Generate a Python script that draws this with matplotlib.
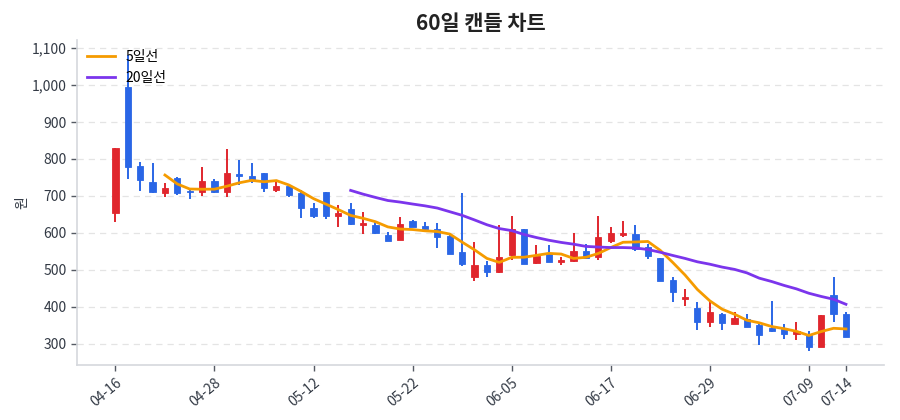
import numpy as np
import pandas as pd
import matplotlib
matplotlib.use('Agg')
import matplotlib.pyplot as plt
from matplotlib import ticker

plt.rcParams['font.family'] = ['Noto Sans CJK KR', 'DejaVu Sans']

# daily OHLC, 60 trading days
opens = [654, 994, 781, 739, 709, 748, 714, 712, 741, 711,
         759, 754, 761, 716, 727, 707, 668, 712, 646, 664,
         621, 622, 595, 581, 633, 619, 610, 593, 549, 480,
         513, 495, 541, 611, 518, 543, 522, 525, 552, 534,
         579, 594, 597, 561, 532, 473, 422, 398, 358, 381,
         354, 368, 350, 343, 340, 327, 324, 291, 432, 381]
highs = [830, 1082, 793, 788, 736, 750, 718, 779, 745, 828,
         797, 788, 763, 743, 728, 716, 682, 712, 676, 682,
         658, 633, 602, 642, 635, 630, 628, 595, 707, 576,
         525, 622, 646, 612, 568, 567, 536, 599, 570, 646,
         615, 632, 622, 570, 533, 482, 448, 412, 412, 383,
         387, 380, 358, 417, 353, 358, 336, 378, 480, 386]
lows = [630, 745, 713, 708, 697, 702, 691, 701, 709, 697,
        730, 734, 710, 712, 698, 640, 641, 637, 615, 622,
        596, 598, 577, 580, 615, 607, 558, 542, 511, 471,
        482, 491, 527, 515, 516, 521, 514, 522, 530, 527,
        572, 588, 552, 529, 469, 412, 403, 338, 347, 338,
        353, 346, 296, 331, 314, 311, 281, 291, 360, 318]
closes = [830, 778, 743, 710, 722, 709, 710, 740, 711, 762,
          755, 743, 721, 727, 703, 667, 646, 647, 653, 624,
          628, 600, 577, 624, 617, 611, 590, 543, 515, 513,
          495, 536, 611, 517, 538, 522, 527, 552, 532, 590,
          601, 599, 556, 539, 470, 439, 428, 360, 386, 356,
          371, 347, 325, 336, 327, 335, 291, 378, 380, 318]

tick_idx = [0, 8, 16, 24, 32, 40, 48, 56, 59]
tick_labels = ['04-16', '04-28', '05-12', '05-22', '06-05',
               '06-17', '06-29', '07-09', '07-14']

up_color = '#e0262d'
down_color = '#2a66e6'
ma5_color = '#f59b00'
ma20_color = '#7b35ec'


def draw_candles(ax, df, width=0.5):
    for i, row in df.iterrows():
        color = up_color if row['close'] >= row['open'] else down_color
        ax.vlines(i, row['low'], row['high'], color=color, linewidth=1.4,
                  zorder=2)
        bottom = min(row['open'], row['close'])
        height = max(abs(row['close'] - row['open']), 1.5)
        ax.bar(i, height, width, bottom=bottom, color=color,
               edgecolor=color, linewidth=0.6, zorder=3)


def main():
    df = pd.DataFrame({'open': opens, 'high': highs,
                       'low': lows, 'close': closes})
    ma5 = df['close'].rolling(5).mean()
    ma20 = df['close'].rolling(20).mean()

    fig = plt.figure(figsize=(9, 4.2), dpi=100)
    ax = fig.add_axes([0.0856, 0.131, 0.897, 0.774])

    ax.grid(axis='y', linestyle=(0, (5, 4)), color='#e4e4e4',
            linewidth=0.9, zorder=0)
    ax.set_axisbelow(True)

    draw_candles(ax, df)
    ax.plot(df.index, ma5, color=ma5_color, linewidth=2, label='5일선',
            zorder=4)
    ax.plot(df.index, ma20, color=ma20_color, linewidth=2, label='20일선',
            zorder=4)

    ax.set_xlim(-3.1, 62.1)
    ax.set_ylim(243, 1122)
    ax.set_yticks(range(300, 1101, 100))
    ax.yaxis.set_major_formatter(
        ticker.FuncFormatter(lambda x, p: f'{int(x):,}'))
    ax.set_xticks(tick_idx)
    ax.set_xticklabels(tick_labels, rotation=40, ha='right',
                       rotation_mode='anchor')

    for side in ['top', 'right']:
        ax.spines[side].set_visible(False)
    for side in ['left', 'bottom']:
        ax.spines[side].set_color('#d5d8dd')
        ax.spines[side].set_linewidth(1.2)
    ax.tick_params(axis='both', colors='#555a63', labelsize=10,
                   length=4, width=1, labelcolor='#333a45')

    ax.set_ylabel('원', fontsize=10, color='#333a45', labelpad=2)
    ax.set_title('60일 캔들 차트', fontsize=15, fontweight='bold',
                 color='#222222', pad=7)

    ax.legend(loc='upper left', frameon=False, fontsize=10,
              handlelength=2.0, borderaxespad=0.3)

    fig.savefig('out.png', dpi=100)


if __name__ == "__main__":
    main()
